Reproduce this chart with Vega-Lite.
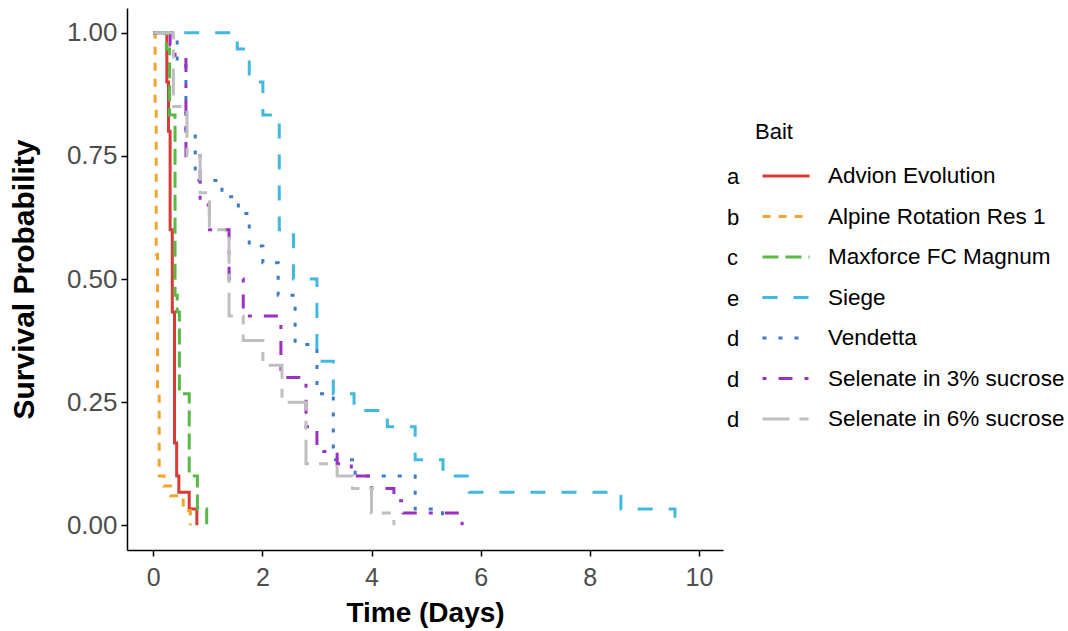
{
  "$schema": "https://vega.github.io/schema/vega-lite/v6.json",
  "width": 596,
  "height": 542,
  "autosize": {"type": "none"},
  "padding": {"left": 127, "top": 8, "right": 345, "bottom": 81},
  "background": "white",
  "config": {"view": {"stroke": null}, "font": "Liberation Sans"},
  "datasets": {
    "curves": [
      {"Bait": "Advion Evolution", "t": 0, "s": 1},
      {"Bait": "Advion Evolution", "t": 0.25, "s": 0.9},
      {"Bait": "Advion Evolution", "t": 0.28, "s": 0.8},
      {"Bait": "Advion Evolution", "t": 0.31, "s": 0.6},
      {"Bait": "Advion Evolution", "t": 0.35, "s": 0.433},
      {"Bait": "Advion Evolution", "t": 0.39, "s": 0.167},
      {"Bait": "Advion Evolution", "t": 0.43, "s": 0.1},
      {"Bait": "Advion Evolution", "t": 0.47, "s": 0.067},
      {"Bait": "Advion Evolution", "t": 0.66, "s": 0.033},
      {"Bait": "Advion Evolution", "t": 0.8, "s": 0},
      {"Bait": "Alpine Rotation Res 1", "t": 0, "s": 1},
      {"Bait": "Alpine Rotation Res 1", "t": 0.035, "s": 0.85},
      {"Bait": "Alpine Rotation Res 1", "t": 0.055, "s": 0.55},
      {"Bait": "Alpine Rotation Res 1", "t": 0.08, "s": 0.27},
      {"Bait": "Alpine Rotation Res 1", "t": 0.11, "s": 0.1},
      {"Bait": "Alpine Rotation Res 1", "t": 0.2, "s": 0.08},
      {"Bait": "Alpine Rotation Res 1", "t": 0.32, "s": 0.06},
      {"Bait": "Alpine Rotation Res 1", "t": 0.55, "s": 0.03},
      {"Bait": "Alpine Rotation Res 1", "t": 0.68, "s": 0},
      {"Bait": "Maxforce FC Magnum", "t": 0, "s": 1},
      {"Bait": "Maxforce FC Magnum", "t": 0.24, "s": 0.967},
      {"Bait": "Maxforce FC Magnum", "t": 0.3, "s": 0.833},
      {"Bait": "Maxforce FC Magnum", "t": 0.4, "s": 0.467},
      {"Bait": "Maxforce FC Magnum", "t": 0.44, "s": 0.433},
      {"Bait": "Maxforce FC Magnum", "t": 0.48, "s": 0.267},
      {"Bait": "Maxforce FC Magnum", "t": 0.66, "s": 0.1},
      {"Bait": "Maxforce FC Magnum", "t": 0.81, "s": 0.033},
      {"Bait": "Maxforce FC Magnum", "t": 0.98, "s": 0},
      {"Bait": "Siege", "t": 0, "s": 1},
      {"Bait": "Siege", "t": 1.54, "s": 0.967},
      {"Bait": "Siege", "t": 1.76, "s": 0.9},
      {"Bait": "Siege", "t": 2.01, "s": 0.833},
      {"Bait": "Siege", "t": 2.31, "s": 0.6},
      {"Bait": "Siege", "t": 2.57, "s": 0.5},
      {"Bait": "Siege", "t": 3.0, "s": 0.333},
      {"Bait": "Siege", "t": 3.3, "s": 0.267},
      {"Bait": "Siege", "t": 3.68, "s": 0.233},
      {"Bait": "Siege", "t": 4.29, "s": 0.2},
      {"Bait": "Siege", "t": 4.8, "s": 0.133},
      {"Bait": "Siege", "t": 5.31, "s": 0.1},
      {"Bait": "Siege", "t": 5.79, "s": 0.067},
      {"Bait": "Siege", "t": 8.57, "s": 0.033},
      {"Bait": "Siege", "t": 9.56, "s": 0},
      {"Bait": "Vendetta", "t": 0, "s": 1},
      {"Bait": "Vendetta", "t": 0.44, "s": 0.933},
      {"Bait": "Vendetta", "t": 0.6, "s": 0.8},
      {"Bait": "Vendetta", "t": 0.77, "s": 0.7},
      {"Bait": "Vendetta", "t": 1.26, "s": 0.667},
      {"Bait": "Vendetta", "t": 1.56, "s": 0.633},
      {"Bait": "Vendetta", "t": 1.76, "s": 0.567},
      {"Bait": "Vendetta", "t": 2.01, "s": 0.533},
      {"Bait": "Vendetta", "t": 2.29, "s": 0.467},
      {"Bait": "Vendetta", "t": 2.6, "s": 0.367},
      {"Bait": "Vendetta", "t": 3.0, "s": 0.267},
      {"Bait": "Vendetta", "t": 3.3, "s": 0.133},
      {"Bait": "Vendetta", "t": 3.7, "s": 0.1},
      {"Bait": "Vendetta", "t": 4.8, "s": 0.033},
      {"Bait": "Vendetta", "t": 5.3, "s": 0},
      {"Bait": "Selenate in 3% sucrose", "t": 0, "s": 1},
      {"Bait": "Selenate in 3% sucrose", "t": 0.31, "s": 0.975},
      {"Bait": "Selenate in 3% sucrose", "t": 0.4, "s": 0.95},
      {"Bait": "Selenate in 3% sucrose", "t": 0.6, "s": 0.75},
      {"Bait": "Selenate in 3% sucrose", "t": 0.86, "s": 0.65},
      {"Bait": "Selenate in 3% sucrose", "t": 1.03, "s": 0.6},
      {"Bait": "Selenate in 3% sucrose", "t": 1.39, "s": 0.5},
      {"Bait": "Selenate in 3% sucrose", "t": 1.65, "s": 0.425},
      {"Bait": "Selenate in 3% sucrose", "t": 2.34, "s": 0.3},
      {"Bait": "Selenate in 3% sucrose", "t": 2.8, "s": 0.2},
      {"Bait": "Selenate in 3% sucrose", "t": 3.0, "s": 0.15},
      {"Bait": "Selenate in 3% sucrose", "t": 3.37, "s": 0.125},
      {"Bait": "Selenate in 3% sucrose", "t": 3.63, "s": 0.1},
      {"Bait": "Selenate in 3% sucrose", "t": 4.0, "s": 0.075},
      {"Bait": "Selenate in 3% sucrose", "t": 4.41, "s": 0.05},
      {"Bait": "Selenate in 3% sucrose", "t": 4.58, "s": 0.025},
      {"Bait": "Selenate in 3% sucrose", "t": 5.66, "s": 0},
      {"Bait": "Selenate in 6% sucrose", "t": 0, "s": 1},
      {"Bait": "Selenate in 6% sucrose", "t": 0.37, "s": 0.85},
      {"Bait": "Selenate in 6% sucrose", "t": 0.62, "s": 0.75},
      {"Bait": "Selenate in 6% sucrose", "t": 0.86, "s": 0.675},
      {"Bait": "Selenate in 6% sucrose", "t": 1.03, "s": 0.6},
      {"Bait": "Selenate in 6% sucrose", "t": 1.39, "s": 0.425},
      {"Bait": "Selenate in 6% sucrose", "t": 1.65, "s": 0.375},
      {"Bait": "Selenate in 6% sucrose", "t": 2.01, "s": 0.325},
      {"Bait": "Selenate in 6% sucrose", "t": 2.36, "s": 0.25},
      {"Bait": "Selenate in 6% sucrose", "t": 2.8, "s": 0.125},
      {"Bait": "Selenate in 6% sucrose", "t": 3.37, "s": 0.1},
      {"Bait": "Selenate in 6% sucrose", "t": 3.65, "s": 0.075},
      {"Bait": "Selenate in 6% sucrose", "t": 4.0, "s": 0.025},
      {"Bait": "Selenate in 6% sucrose", "t": 4.41, "s": 0}
    ],
    "letters": [
      {"code": "a"}, {"code": "b"}, {"code": "c"}, {"code": "e"},
      {"code": "d1"}, {"code": "d2"}, {"code": "d3"}
    ]
  },
  "layer": [
    {
      "data": {"name": "curves"},
      "mark": {"type": "line", "interpolate": "step-after", "strokeWidth": 3, "strokeCap": "butt", "strokeJoin": "miter"},
      "encoding": {
        "x": {
          "field": "t", "type": "quantitative",
          "scale": {"domain": [-0.48, 10.44], "nice": false, "zero": false},
          "axis": {
            "values": [0, 2, 4, 6, 8, 10], "format": "d", "grid": false,
            "title": "Time (Days)", "titleFontSize": 28, "titleFontWeight": "bold", "titleColor": "black", "titlePadding": 9,
            "labelFontSize": 25, "labelColor": "#4D4D4D", "labelPadding": 9,
            "tickSize": 6, "tickWidth": 1.5, "tickColor": "black",
            "domainColor": "black", "domainWidth": 1.5
          }
        },
        "y": {
          "field": "s", "type": "quantitative",
          "scale": {"domain": [-0.05, 1.05], "nice": false, "zero": false},
          "axis": {
            "values": [0, 0.25, 0.5, 0.75, 1], "format": ".2f", "grid": false,
            "title": "Survival Probability", "titleFontSize": 30, "titleFontWeight": "bold", "titleColor": "black", "titlePadding": 27,
            "labelFontSize": 26, "labelColor": "#4D4D4D", "labelPadding": 4,
            "tickSize": 6, "tickWidth": 1.5, "tickColor": "black",
            "domainColor": "black", "domainWidth": 1.5
          }
        },
        "color": {
          "field": "Bait", "type": "nominal",
          "scale": {
            "domain": ["Advion Evolution", "Alpine Rotation Res 1", "Maxforce FC Magnum", "Siege", "Vendetta", "Selenate in 3% sucrose", "Selenate in 6% sucrose"],
            "range": ["#D93A35", "#F5A22F", "#58B947", "#41B8E0", "#3B7DC4", "#9A31C2", "#BEBEBE"]
          },
          "legend": {
            "orient": "none", "legendX": 628, "legendY": 114,
            "title": "Bait", "titleFontSize": 22, "titleFontWeight": "normal", "titleColor": "black", "titlePadding": 12,
            "labelFontSize": 22.5, "labelColor": "black", "labelOffset": 17, "labelLimit": 400,
            "symbolType": "stroke", "symbolSize": 2209, "symbolStrokeWidth": 3, "symbolOffset": 6,
            "clipHeight": 40, "rowPadding": 0.5
          }
        },
        "strokeDash": {
          "field": "Bait", "type": "nominal",
          "scale": {
            "domain": ["Advion Evolution", "Alpine Rotation Res 1", "Maxforce FC Magnum", "Siege", "Vendetta", "Selenate in 3% sucrose", "Selenate in 6% sucrose"],
            "range": [[1, 0], [8, 8], [16, 7], [15, 16], [4, 12], [4, 12, 14, 12], [27, 10, 9, 10]]
          },
          "legend": {
            "orient": "none", "legendX": 628, "legendY": 114,
            "title": "Bait", "titleFontSize": 22, "titleFontWeight": "normal", "titleColor": "black", "titlePadding": 12,
            "labelFontSize": 22.5, "labelColor": "black", "labelOffset": 17, "labelLimit": 400,
            "symbolType": "stroke", "symbolSize": 2209, "symbolStrokeWidth": 3, "symbolOffset": 6,
            "clipHeight": 40, "rowPadding": 0.5
          }
        }
      }
    },
    {
      "data": {"name": "letters"},
      "mark": {"type": "point", "opacity": 0},
      "encoding": {
        "shape": {
          "field": "code", "type": "nominal",
          "scale": {"domain": ["a", "b", "c", "e", "d1", "d2", "d3"]},
          "legend": {
            "orient": "none", "legendX": 578, "legendY": 149,
            "title": null,
            "labelExpr": "substring(datum.label, 0, 1)",
            "labelFontSize": 22, "labelColor": "black", "labelOffset": 0,
            "symbolSize": 4, "symbolOpacity": 0, "symbolStrokeWidth": 0,
            "clipHeight": 40, "rowPadding": 0.5
          }
        }
      }
    }
  ]
}
